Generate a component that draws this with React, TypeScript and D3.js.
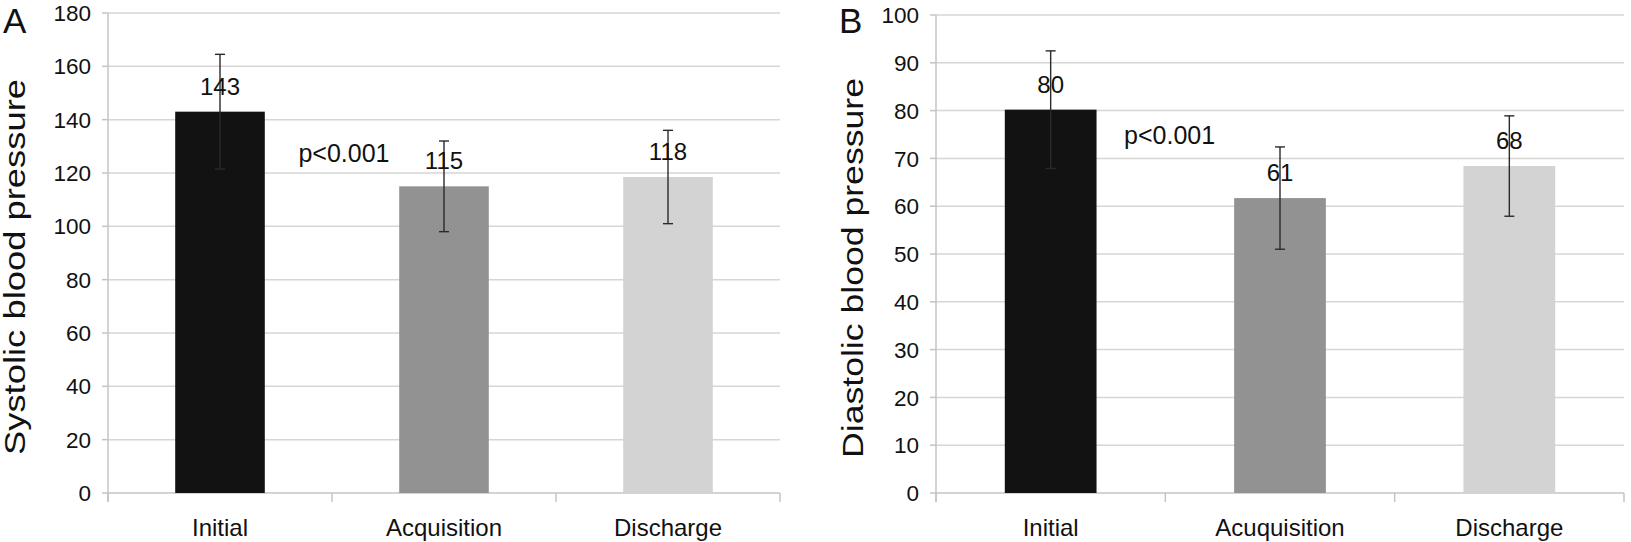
import React from 'react';
import * as d3 from 'd3';

// panel A - systolic
const categoriesA = ['Initial', 'Acquisition', 'Discharge'];
const meansA = [143, 115, 118.5];
const errorsA = [21.5, 17, 17.5];
const labelsA = ['143', '115', '118'];
const ticksA = [0, 20, 40, 60, 80, 100, 120, 140, 160, 180];

// panel B - diastolic
const categoriesB = ['Initial', 'Acuquisition', 'Discharge'];
const meansB = [80.2, 61.7, 68.4];
const errorsB = [12.3, 10.7, 10.5];
const labelsB = ['80', '61', '68'];
const ticksB = [0, 10, 20, 30, 40, 50, 60, 70, 80, 90, 100];

const barColors = ['#121212', '#929292', '#d3d3d3'];
const FONT = '"Liberation Sans", Arial, Helvetica, sans-serif';

interface PanelProps {
  letter: string;
  title: string;
  titleLength: number;
  categories: string[];
  means: number[];
  errors: number[];
  labels: string[];
  ticks: number[];
  left: number;
  right: number;
  top: number;
  bottom: number;
  letterX: number;
  titleX: number;
  pValue: { band: number; value: number };
}

const Panel: React.FC<PanelProps> = (p) => {
  const yMax = d3.max(p.ticks) as number;
  const y = d3.scaleLinear().domain([0, yMax]).range([p.bottom, p.top]);
  const x = d3.scaleBand<string>()
    .domain(p.categories)
    .range([p.left, p.right])
    .paddingInner(0.6)
    .paddingOuter(0.3);
  const step = x.step();
  const boundaries = d3.range(p.categories.length + 1).map(i => p.left + i * step);
  const titleY = (p.top + p.bottom) / 2 + 14;

  return (
    <g>
      {/* gridlines */}
      {p.ticks.filter(t => t > 0).map(t => (
        <line key={t} x1={p.left} x2={p.right} y1={y(t)} y2={y(t)} stroke="#d6d6d6" strokeWidth={1.5} />
      ))}
      {/* y axis + ticks */}
      <line x1={p.left} x2={p.left} y1={p.top} y2={p.bottom + 9} stroke="#c4c4c4" strokeWidth={1.5} />
      {p.ticks.map(t => (
        <g key={t}>
          <line x1={p.left - 6} x2={p.left} y1={y(t)} y2={y(t)} stroke="#c4c4c4" strokeWidth={1.5} />
          <text x={p.left - 17} y={y(t)} dy="0.36em" textAnchor="end" fontSize={22.5} fontFamily={FONT} fill="#111">{t}</text>
        </g>
      ))}
      {/* x axis */}
      <line x1={p.left} x2={p.right} y1={p.bottom} y2={p.bottom} stroke="#c4c4c4" strokeWidth={1.5} />
      {boundaries.map((bx, i) => (
        <line key={i} x1={bx} x2={bx} y1={p.bottom} y2={p.bottom + 9} stroke="#c4c4c4" strokeWidth={1.5} />
      ))}
      {/* bars */}
      {p.categories.map((c, i) => (
        <rect key={c} x={x(c)} y={y(p.means[i])} width={x.bandwidth()} height={p.bottom - y(p.means[i])} fill={barColors[i]} />
      ))}
      {/* error bars */}
      {p.categories.map((c, i) => {
        const cx = (x(c) as number) + x.bandwidth() / 2;
        const hi = y(p.means[i] + p.errors[i]);
        const lo = y(p.means[i] - p.errors[i]);
        return (
          <g key={c} stroke="#2a2a2a" strokeWidth={1.4}>
            <line x1={cx} x2={cx} y1={hi} y2={lo} />
            <line x1={cx - 5} x2={cx + 5} y1={hi} y2={hi} />
            <line x1={cx - 5} x2={cx + 5} y1={lo} y2={lo} />
          </g>
        );
      })}
      {/* value labels */}
      {p.categories.map((c, i) => (
        <text key={c} x={(x(c) as number) + x.bandwidth() / 2} y={y(p.means[i]) - 17} textAnchor="middle" fontSize={24} fontFamily={FONT} fill="#111">{p.labels[i]}</text>
      ))}
      {/* category labels */}
      {p.categories.map(c => (
        <text key={c} x={(x(c) as number) + x.bandwidth() / 2} y={536} textAnchor="middle" fontSize={24} fontFamily={FONT} fill="#111">{c}</text>
      ))}
      {/* p value */}
      <text x={p.left + p.pValue.band * step} y={y(p.pValue.value)} fontSize={25} fontFamily={FONT} fill="#111">p&lt;0.001</text>
      {/* axis title */}
      <text transform={`translate(${p.titleX},${titleY}) rotate(-90)`} textAnchor="middle" fontSize={29} fontFamily={FONT} fill="#111"
        textLength={p.titleLength} lengthAdjust="spacingAndGlyphs">{p.title}</text>
      {/* panel letter */}
      <text x={p.letterX} y={33} fontSize={35} fontFamily={FONT} fill="#111">{p.letter}</text>
    </g>
  );
};

export default function App() {
  return (
    <svg width={1631} height={542} style={{ position: 'absolute', left: 0, top: 0, background: '#fff' }}>
      <rect width={1631} height={542} fill="#fff" />
      <Panel
        letter="A"
        title="Systolic blood pressure"
        titleLength={376}
        categories={categoriesA}
        means={meansA}
        errors={errorsA}
        labels={labelsA}
        ticks={ticksA}
        left={108}
        right={780}
        top={13}
        bottom={493}
        letterX={3}
        titleX={25}
        pValue={{ band: 0.85, value: 124 }}
      />
      <Panel
        letter="B"
        title="Diastolic blood pressure"
        titleLength={380}
        categories={categoriesB}
        means={meansB}
        errors={errorsB}
        labels={labelsB}
        ticks={ticksB}
        left={936}
        right={1624}
        top={15}
        bottom={493}
        letterX={839}
        titleX={863}
        pValue={{ band: 0.82, value: 73 }}
      />
    </svg>
  );
}
